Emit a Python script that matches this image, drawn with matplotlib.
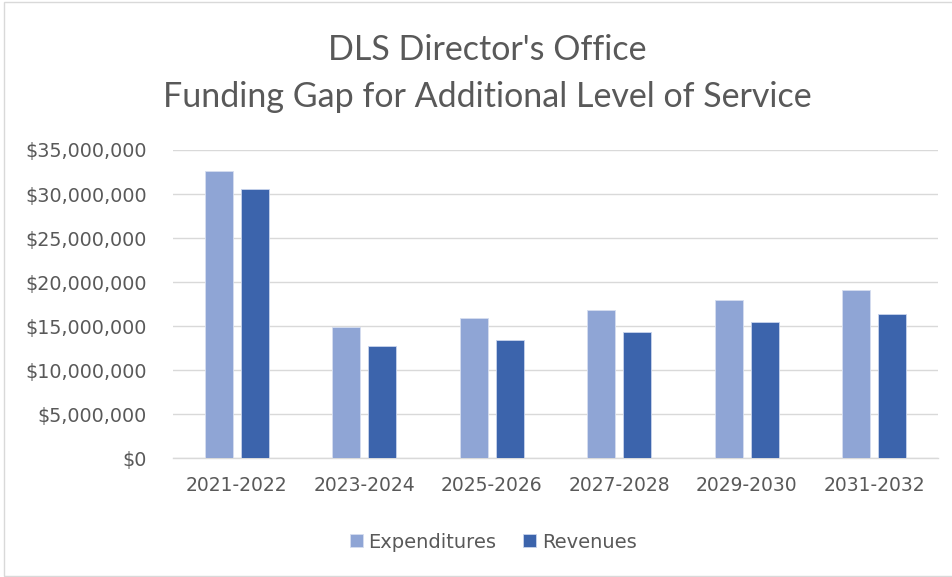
import matplotlib
matplotlib.use("Agg")
import matplotlib.pyplot as plt
import numpy as np
from matplotlib.patches import Rectangle
from matplotlib.ticker import FuncFormatter

categories = ["2021-2022", "2023-2024", "2025-2026", "2027-2028", "2029-2030", "2031-2032"]
expenditures = [32_570_000, 14_890_000, 15_980_000, 16_890_000, 18_020_000, 19_160_000]
revenues = [30_570_000, 12_800_000, 13_480_000, 14_390_000, 15_520_000, 16_430_000]
series_names = ["Expenditures", "Revenues"]
title = "DLS Director's Office\nFunding Gap for Additional Level of Service"

TFONT = ["Lato", "DejaVu Sans"]
AFONT = ["DejaVu Sans"]
TXT = "#595959"
C_EXP = "#8FA5D5"
C_REV = "#3C64AC"

W, H = 952, 577
fig = plt.figure(figsize=(W / 100, H / 100), dpi=100)
ax = fig.add_axes([173 / W, 1 - 458.3 / H, (938 - 173) / W, (458.3 - 150) / H])

x = np.arange(len(categories))
bw = 0.22
gap = 0.065
ax.bar(x - (bw + gap) / 2, expenditures, bw, color=C_EXP, edgecolor="#D6DEF0", linewidth=0.6,
       label=series_names[0], zorder=3)
ax.bar(x + (bw + gap) / 2, revenues, bw, color=C_REV, edgecolor="#C9D4EC", linewidth=0.6,
       label=series_names[1], zorder=3)

ax.set_xlim(-0.5, len(categories) - 0.5)
ax.set_ylim(0, 35_000_000)
ax.set_yticks(np.arange(0, 35_000_001, 5_000_000))
ax.yaxis.set_major_formatter(FuncFormatter(lambda v, p: f"${v:,.0f}"))
ax.set_xticks(x)
ax.set_xticklabels(categories)
ax.grid(axis="y", color="#D9D9D9", linewidth=1.0, zorder=0)
for s in ["top", "right", "left"]:
    ax.spines[s].set_visible(False)
ax.spines["bottom"].set_color("#D9D9D9")
ax.spines["bottom"].set_linewidth(1.0)
ax.tick_params(axis="both", length=0, labelcolor=TXT)
ax.tick_params(axis="y", pad=19, labelsize=13.8)
ax.tick_params(axis="x", pad=13, labelsize=13.5)
for lab in ax.get_xticklabels() + ax.get_yticklabels():
    lab.set_family(AFONT)

fig.text(487 / W, 1 - 34.5 / H, title, ha="center", va="top", fontsize=24.5, color=TXT,
         family=TFONT, linespacing=1.55)

leg = fig.legend(loc="center", bbox_to_anchor=(493 / W, 1 - 542 / H), ncol=2, frameon=False,
                 prop={"family": AFONT, "size": 14}, handlelength=0.67, handleheight=0.67,
                 columnspacing=1.4, handletextpad=0.28)
for t in leg.get_texts():
    t.set_color(TXT)

fig.patches.append(Rectangle((4 / W, 0.002), 1.0, 1 - 2 / H - 0.002, transform=fig.transFigure,
                             fill=False, edgecolor="#D9D9D9", linewidth=1.0))

fig.savefig("out.png", dpi=100, facecolor="white")
